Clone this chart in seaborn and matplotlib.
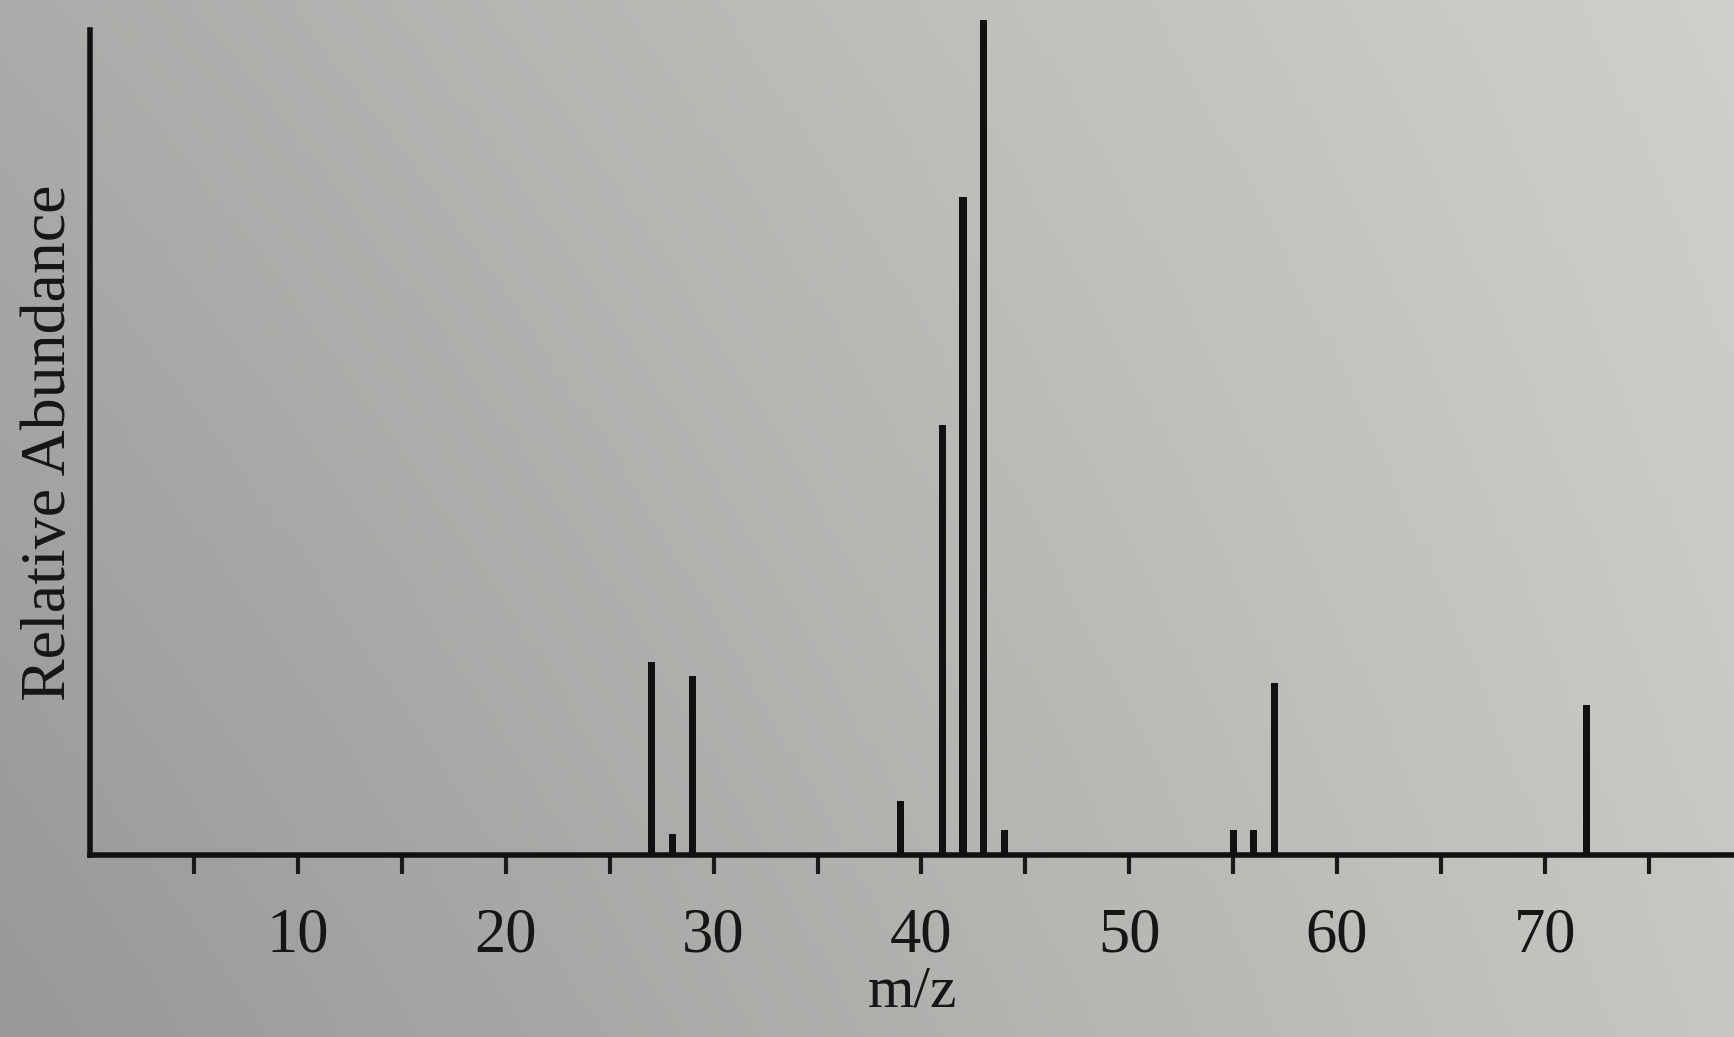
import numpy as np
import matplotlib
matplotlib.use("Agg")
import matplotlib.pyplot as plt
from matplotlib.colors import to_rgb
import seaborn as sns

# --- Datos del espectro de masas ---
mz = [27, 28, 29, 39, 41, 42, 43, 44, 55, 56, 57, 72]
abundancia = [23.1, 2.5, 21.4, 6.5, 51.5, 78.8, 100.0, 3.0, 3.0, 3.0, 20.6, 18.0]
ticks_mz = [5, 10, 15, 20, 25, 30, 35, 40, 45, 50, 55, 60, 65, 70, 75]
etiquetas = ["", "10", "", "20", "", "30", "", "40", "", "50", "", "60", "", "70", ""]

sns.set_theme(style="white")
plt.rcParams['font.family'] = ['Liberation Serif', 'DejaVu Serif']

fig = plt.figure(figsize=(17.34, 10.37), dpi=100)

# fondo gris tipo fotografía (degradado)
bg = fig.add_axes([0, 0, 1, 1], zorder=-10)
tl, bl = np.array(to_rgb('#abaca9')), np.array(to_rgb('#989997'))
tr, br = np.array(to_rgb('#cfd0cb')), np.array(to_rgb('#c6c7c2'))
u = np.linspace(0, 1, 200)[None, :, None]
v = np.linspace(0, 1, 120)[:, None, None]
img = (1 - v) * ((1 - u) * tl + u * tr) + v * ((1 - u) * bl + u * br)
bg.imshow(img, aspect='auto', extent=[0, 1, 0, 1])
bg.axis('off')

ax = fig.add_axes([0.052, 0.1755, 0.948, 0.7955])
ax.patch.set_alpha(0)

sns.barplot(x=mz, y=abundancia, native_scale=True, width=0.34,
            color='#111111', saturation=1, linewidth=0, ax=ax)
for p in ax.patches:
    p.set_clip_on(False)

ax.set_xlim(0, 79.1)
ax.set_ylim(0, 98.8)
ax.set_xticks(ticks_mz)
ax.set_xticklabels(etiquetas, fontsize=45, color='#161616')
ax.set_yticks([])
ax.tick_params(axis='x', direction='out', length=14, width=3, color='#1a1a1a',
               pad=24, bottom=True)

for s in ['top', 'right']:
    ax.spines[s].set_visible(False)
for s in ['left', 'bottom']:
    ax.spines[s].set_linewidth(4)
    ax.spines[s].set_color('#111111')

ax.set_xlabel('m/z', fontsize=43, color='#161616', labelpad=0)
ax.set_ylabel('Relative Abundance', fontsize=46, color='#161616', labelpad=8)

fig.savefig('out.png', dpi=100, facecolor=fig.get_facecolor())
